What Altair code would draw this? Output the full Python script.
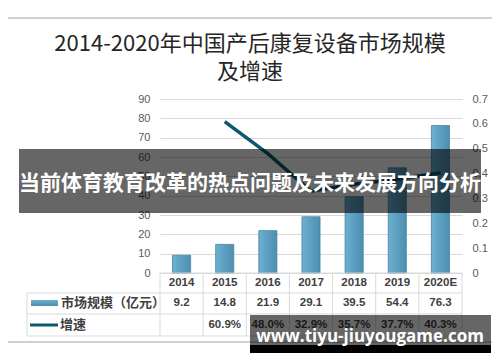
import altair as alt
import pandas as pd

# ---- data ----
years = ["2014", "2015", "2016", "2017", "2018", "2019", "2020E"]
market = [9.2, 14.8, 21.9, 29.1, 39.5, 54.4, 76.3]
growth = [None, 0.609, 0.480, 0.329, 0.357, 0.377, 0.403]
left_ticks = [0, 10, 20, 30, 40, 50, 60, 70, 80, 90]
right_ticks = [0, 0.1, 0.2, 0.3, 0.4, 0.5, 0.6, 0.7]
title_lines = ["2014-2020年中国产后康复设备市场规模", "及增速"]
row_labels = ["市场规模（亿元）", "增速"]
banner_text = "当前体育教育改革的热点问题及未来发展方向分析"
watermark_text = "www.tiyu-jiuyougame.com"

df = pd.DataFrame({"year": years, "market": market, "growth": growth})
one = pd.DataFrame({"k": [0]})

W, H = 302, 174
BAR = "#5a9ec1"
LINE = "#0c5870"
GRID = "#d9d9d9"
TXT = "#404040"
LAB = "#595959"
FONT = "Liberation Sans"
CJK = "Noto Sans CJK SC"

xscale = alt.Scale(domain=years, paddingInner=0, paddingOuter=0)
Xc = alt.X("year:N", scale=xscale, axis=None, bandPosition=0.5)
X0 = alt.X("year:N", scale=xscale, axis=None, bandPosition=0)

base = alt.Chart(df)
deco = alt.Chart(one)

frame = deco.mark_rect(fillOpacity=0, stroke="#a0a0a0", strokeWidth=1).encode(
    x=alt.value(-156), x2=alt.value(336), y=alt.value(-81), y2=alt.value(243)
)

title1 = deco.mark_text(font=CJK, fontSize=22, color="#262626", align="center", baseline="middle").encode(
    x=alt.value(90), y=alt.value(-55), text=alt.value(title_lines[0])
)
title2 = deco.mark_text(font=CJK, fontSize=22, color="#262626", align="center", baseline="middle").encode(
    x=alt.value(90), y=alt.value(-27), text=alt.value(title_lines[1])
)

bars = base.mark_bar(
    width={"band": 0.42},
    color={
        "x1": 0, "x2": 1, "y1": 0, "y2": 0, "gradient": "linear",
        "stops": [{"offset": 0, "color": "#6cb0d2"}, {"offset": 1, "color": "#4d8db0"}],
    },
    stroke="#4a84a3", strokeWidth=0.8,
).encode(
    x=Xc,
    y=alt.Y(
        "market:Q",
        scale=alt.Scale(domain=[0, 90], nice=False),
        axis=alt.Axis(
            values=left_ticks, title=None, orient="left", domain=False, ticks=False,
            labelPadding=10, labelColor=LAB, labelFont=FONT, labelFontSize=11,
            grid=True, gridColor=GRID, gridWidth=1,
        ),
    ),
)

line = base.transform_filter("datum.growth != null").mark_line(
    color=LINE, strokeWidth=3.5
).encode(
    x=Xc,
    y=alt.Y(
        "growth:Q",
        scale=alt.Scale(domain=[0, 0.7], nice=False),
        axis=alt.Axis(
            values=right_ticks, format=".1~f", title=None, orient="right", domain=False,
            ticks=False, labelPadding=10, labelColor=LAB, labelFont=FONT, labelFontSize=11,
            grid=False,
        ),
    ),
)

# ---- data table under the plot ----
vlines = base.mark_rule(color=GRID, strokeWidth=1).encode(x=X0, y=alt.value(H), y2=alt.value(237))
vlast = deco.mark_rule(color=GRID, strokeWidth=1).encode(x=alt.value(W), y=alt.value(H), y2=alt.value(237))
vleft = deco.mark_rule(color=GRID, strokeWidth=1).encode(x=alt.value(-133), y=alt.value(194), y2=alt.value(237))
htop = deco.mark_rule(color=GRID, strokeWidth=1).encode(x=alt.value(0), x2=alt.value(W), y=alt.value(H))
h1 = deco.mark_rule(color=GRID, strokeWidth=1).encode(x=alt.value(-133), x2=alt.value(W), y=alt.value(194))
h2 = deco.mark_rule(color=GRID, strokeWidth=1).encode(x=alt.value(-133), x2=alt.value(W), y=alt.value(215))
h3 = deco.mark_rule(color=GRID, strokeWidth=1).encode(x=alt.value(-133), x2=alt.value(W), y=alt.value(237))

year_txt = base.mark_text(font=FONT, fontSize=11.5, fontWeight="bold", color=TXT, baseline="middle").encode(
    x=Xc, y=alt.value(184), text="year:N"
)
market_txt = base.mark_text(font=FONT, fontSize=11.5, fontWeight="bold", color=TXT, baseline="middle").encode(
    x=Xc, y=alt.value(204), text=alt.Text("market:Q", format=".1f")
)
growth_txt = base.transform_filter("datum.growth != null").mark_text(
    font=FONT, fontSize=11.5, fontWeight="bold", color=TXT, baseline="middle"
).encode(x=Xc, y=alt.value(226), text=alt.Text("growth:Q", format=".1%"))

leg_rect = deco.mark_rect(
    color={
        "x1": 0, "x2": 0, "y1": 0, "y2": 1, "gradient": "linear",
        "stops": [{"offset": 0, "color": "#6cb0d2"}, {"offset": 1, "color": "#4d8db0"}],
    }
).encode(x=alt.value(-129), x2=alt.value(-102), y=alt.value(201), y2=alt.value(207))
leg_line = deco.mark_rule(color=LINE, strokeWidth=3).encode(
    x=alt.value(-130), x2=alt.value(-102), y=alt.value(226)
)
lab1 = deco.mark_text(font=CJK, fontSize=13, fontWeight="bold", color=TXT, align="left", baseline="middle").encode(
    x=alt.value(-99), y=alt.value(204), text=alt.value(row_labels[0])
)
lab2 = deco.mark_text(font=CJK, fontSize=13, fontWeight="bold", color=TXT, align="left", baseline="middle").encode(
    x=alt.value(-100), y=alt.value(226), text=alt.value(row_labels[1])
)

# ---- overlays ----
band1 = deco.mark_rect(color="#000000", opacity=0.6).encode(
    x=alt.value(-141), x2=alt.value(321), y=alt.value(50), y2=alt.value(114)
)
band1_txt = deco.mark_text(font=CJK, fontSize=21, fontWeight="bold", color="#ffffff", align="center", baseline="middle").encode(
    x=alt.value(90), y=alt.value(85), text=alt.value(banner_text)
)
band2 = deco.mark_rect(color="#000000", opacity=0.6).encode(
    x=alt.value(90), x2=alt.value(331), y=alt.value(216), y2=alt.value(246)
)
band2b = deco.mark_rect(color="#000000").encode(
    x=alt.value(90), x2=alt.value(331), y=alt.value(246), y2=alt.value(254)
)
band2_txt = deco.mark_text(font="Open Sans", fontSize=17, fontWeight="bold", color="#ffffff", align="center", baseline="middle").encode(
    x=alt.value(210), y=alt.value(238), text=alt.value(watermark_text)
)

chart = alt.layer(
    frame, title1, title2, bars, line,
    vlines, vlast, vleft, htop, h1, h2, h3,
    year_txt, market_txt, growth_txt, leg_rect, leg_line, lab1, lab2,
    band1, band1_txt, band2, band2b, band2_txt,
).resolve_scale(y="independent").properties(
    width=W, height=H, autosize="none",
    padding={"left": 152, "top": 91, "right": 30, "bottom": 81},
    background="#ffffff",
).configure_view(stroke=None)

chart.save("out.html", embed_options={"renderer": "svg", "actions": False})
